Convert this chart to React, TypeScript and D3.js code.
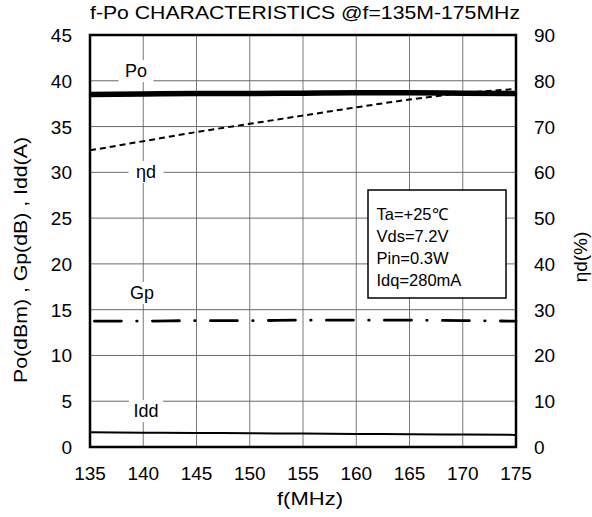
import React from "react";
import * as d3 from "d3";

// Frequency sweep (MHz)
const freqs = [135, 140, 145, 150, 155, 160, 165, 170, 175];
// Output power (dBm)
const po = [38.5, 38.55, 38.6, 38.6, 38.65, 38.7, 38.7, 38.65, 38.6];
// Drain efficiency (%)
const eta = [64.8, 66.8, 68.8, 70.6, 72.4, 74.2, 75.9, 77.3, 78.2];
// Power gain (dB)
const gp = [13.75, 13.75, 13.8, 13.8, 13.85, 13.85, 13.85, 13.8, 13.75];
// Drain current (A)
const idd = [1.6, 1.57, 1.54, 1.5, 1.47, 1.43, 1.4, 1.36, 1.32];

const xTicks = [135, 140, 145, 150, 155, 160, 165, 170, 175];
const yLeftTicks = [0, 5, 10, 15, 20, 25, 30, 35, 40, 45];
const yRightTicks = [0, 10, 20, 30, 40, 50, 60, 70, 80, 90];
const conditions = ["Ta=+25\u2103", "Vds=7.2V", "Pin=0.3W", "Idq=280mA"];

const W = 592;
const H = 517;
const m = { left: 90, right: 516, top: 35, bottom: 447 };
const font = "'Liberation Sans', Arial, sans-serif";

export default function App() {
  const x = d3.scaleLinear().domain([135, 175]).range([m.left, m.right]);
  const yL = d3.scaleLinear().domain([0, 45]).range([m.bottom, m.top]);
  const yR = d3.scaleLinear().domain([0, 90]).range([m.bottom, m.top]);

  const lineL = d3
    .line<number>()
    .x((_, i) => x(freqs[i]))
    .y((d) => yL(d))
    .curve(d3.curveMonotoneX);
  const lineR = d3
    .line<number>()
    .x((_, i) => x(freqs[i]))
    .y((d) => yR(d))
    .curve(d3.curveMonotoneX);

  // series name with a white patch so the grid breaks around it
  const seriesLabel = (text: string, cx: number, base: number, w: number) => (
    <g>
      <rect x={cx - w / 2} y={base - 17} width={w} height={22} fill="#fff" />
      <text x={cx} y={base} textAnchor="middle" fontSize={18}>
        {text}
      </text>
    </g>
  );

  return (
    <svg
      width={W}
      height={H}
      style={{ position: "absolute", left: 0, top: 0, background: "#fff" }}
      fontFamily={font}
    >
      <rect width={W} height={H} fill="#fff" />
      {/* grid */}
      {xTicks.slice(1, -1).map((t) => (
        <line key={"gx" + t} x1={x(t)} x2={x(t)} y1={m.top} y2={m.bottom} stroke="#7a7a7a" strokeWidth={1} />
      ))}
      {yLeftTicks.slice(1, -1).map((t) => (
        <line key={"gy" + t} x1={m.left} x2={m.right} y1={yL(t)} y2={yL(t)} stroke="#6a6a6a" strokeWidth={1} />
      ))}

      {seriesLabel("Po", 136, 77, 35)}
      {seriesLabel("\u03b7d", 146, 178, 35)}
      {seriesLabel("Gp", 142, 299, 38)}
      {seriesLabel("Idd", 146, 417, 34)}

      {/* curves */}
      <path d={lineR(eta) || ""} fill="none" stroke="#000" strokeWidth={2} strokeDasharray="6,4" />
      <path
        d={lineL(gp) || ""}
        fill="none"
        stroke="#000"
        strokeWidth={2.8}
        strokeLinecap="round"
        strokeDasharray="27,15.25,0.5,15.25"
        strokeDashoffset={53.6}
      />
      <path d={lineL(idd) || ""} fill="none" stroke="#000" strokeWidth={2} />
      <path d={lineL(po) || ""} fill="none" stroke="#000" strokeWidth={5.5} />

      {/* frame */}
      <rect
        x={m.left}
        y={m.top}
        width={m.right - m.left}
        height={m.bottom - m.top}
        fill="none"
        stroke="#000"
        strokeWidth={2.5}
      />

      {/* conditions box */}
      <rect x={368} y={190} width={138} height={108} fill="#fff" stroke="#000" strokeWidth={1.5} />
      {conditions.map((c, i) => (
        <text key={c} x={376.5} y={219.5 + i * 22.3} fontSize={16.5}>
          {c}
        </text>
      ))}

      {/* tick labels */}
      {xTicks.map((t) => (
        <text key={"xt" + t} x={x(t)} y={480} textAnchor="middle" fontSize={19}>
          {t}
        </text>
      ))}
      {yLeftTicks.map((t) => (
        <text key={"yl" + t} x={72} y={yL(t) + 7} textAnchor="end" fontSize={19}>
          {t}
        </text>
      ))}
      {yRightTicks.map((t) => (
        <text key={"yr" + t} x={534} y={yR(t) + 7} textAnchor="start" fontSize={19}>
          {t}
        </text>
      ))}

      {/* titles */}
      <text x={305} y={19} textAnchor="middle" fontSize={18} textLength={430} lengthAdjust="spacingAndGlyphs">
        f-Po CHARACTERISTICS @f=135M-175MHz
      </text>
      <text x={310} y={505} textAnchor="middle" fontSize={19} textLength={66} lengthAdjust="spacingAndGlyphs">
        f(MHz)
      </text>
      <text
        transform={`translate(27,260) rotate(-90)`}
        textAnchor="middle"
        fontSize={18}
        textLength={246}
        lengthAdjust="spacingAndGlyphs"
      >
        Po(dBm) , Gp(dB) , Idd(A)
      </text>
      <text transform={`translate(587,257) rotate(-90)`} textAnchor="middle" fontSize={19}>
        {"\u03b7d(%)"}
      </text>
    </svg>
  );
}
